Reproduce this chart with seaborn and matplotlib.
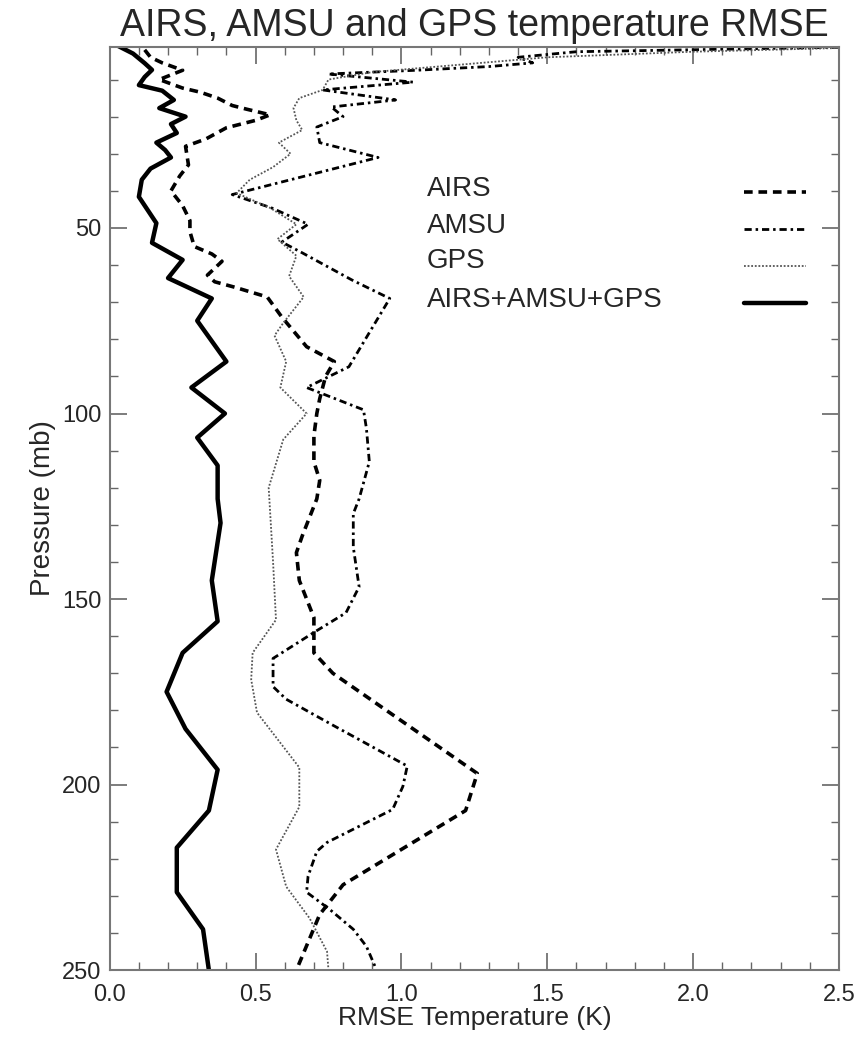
import numpy as np
import pandas as pd
import seaborn as sns
import matplotlib.pyplot as plt
from matplotlib.lines import Line2D

# RMSE profiles (pressure in mb, RMSE in K)
airs_p = [2, 4, 5.5, 7.5, 10, 12.3, 13.4, 15, 17, 18, 19.5, 21, 23, 26, 28, 33, 36, 40,
          44, 48, 51, 55, 57, 59, 62.7, 64.5, 66, 68.6, 74, 82, 86, 90, 96, 100, 106,
          113, 118, 123, 133, 137.5, 145, 155, 164.5, 170, 197, 207, 227, 235, 250]
airs_t = [0.12, 0.14, 0.18, 0.25, 0.17, 0.25, 0.31, 0.37, 0.42, 0.47, 0.55, 0.50, 0.40,
          0.33, 0.26, 0.27, 0.24, 0.21, 0.25, 0.275, 0.275, 0.29, 0.35, 0.385, 0.335,
          0.36, 0.43, 0.54, 0.59, 0.675, 0.77, 0.74, 0.72, 0.71, 0.70, 0.70, 0.72, 0.71,
          0.66, 0.64, 0.65, 0.70, 0.70, 0.765, 1.26, 1.22, 0.80, 0.72, 0.64]

amsu_p = [1.3, 2.5, 4, 5.5, 6.5, 7.5, 8.5, 10.7, 12.8, 15.5, 17.4, 20, 22.8, 27, 31, 41,
          44.6, 49, 53.8, 56.7, 64, 69, 87.4, 93, 99, 104, 113, 123, 127, 136, 146.7,
          153.7, 159, 166, 173.6, 177, 184, 195, 200.5, 206.7, 215.6, 218, 224.7, 229,
          233.7, 239, 243.6, 250]
amsu_t = [2.5, 1.6, 1.4, 1.45, 1.3, 1.05, 0.75, 1.04, 0.73, 0.98, 0.76, 0.80, 0.71, 0.72,
          0.92, 0.42, 0.555, 0.68, 0.59, 0.66, 0.83, 0.96, 0.82, 0.675, 0.87, 0.88, 0.89,
          0.855, 0.835, 0.835, 0.855, 0.81, 0.70, 0.56, 0.56, 0.605, 0.765, 1.02, 1.005,
          0.97, 0.745, 0.71, 0.68, 0.675, 0.755, 0.835, 0.88, 0.915]

gps_p = [1.5, 2.5, 4, 6, 8, 10, 12.8, 15, 17.7, 21, 23.6, 27, 30, 33.6, 37, 40.6, 44.6,
         49, 53, 57.5, 63, 68.6, 75.6, 79, 86, 93, 100, 107, 120, 140, 155.6, 164.5,
         171.7, 180.6, 195.4, 206, 217.5, 227.5, 236, 245, 250]
gps_t = [2.5, 2.0, 1.5, 1.2, 0.9, 0.75, 0.73, 0.65, 0.63, 0.64, 0.66, 0.58, 0.62, 0.56,
         0.48, 0.435, 0.55, 0.64, 0.575, 0.64, 0.615, 0.665, 0.595, 0.565, 0.605, 0.585,
         0.675, 0.595, 0.545, 0.56, 0.57, 0.49, 0.485, 0.505, 0.65, 0.65, 0.57, 0.605,
         0.685, 0.745, 0.75]

comb_p = [1, 3, 5.6, 7.4, 9.3, 11.5, 13, 15.5, 17.7, 20, 22, 24.4, 27, 29, 31, 34, 37,
          41.6, 48.7, 54, 58.6, 63.5, 69, 75, 86, 93, 100, 106.5, 114, 123, 129.5, 145,
          156, 164.5, 175, 185, 196, 207, 217, 229, 239, 250]
comb_t = [0.03, 0.08, 0.12, 0.145, 0.12, 0.10, 0.18, 0.22, 0.17, 0.26, 0.21, 0.23, 0.16,
          0.19, 0.21, 0.14, 0.11, 0.10, 0.16, 0.145, 0.25, 0.20, 0.35, 0.30, 0.40, 0.28,
          0.395, 0.30, 0.37, 0.37, 0.38, 0.35, 0.37, 0.25, 0.195, 0.26, 0.37, 0.34, 0.23,
          0.23, 0.32, 0.34]

names = ["AIRS", "AMSU", "GPS", "AIRS+AMSU+GPS"]

sns.set_style("ticks")
plt.rcParams['font.family'] = ['Liberation Sans', 'DejaVu Sans']

fig = plt.figure(figsize=(8.57, 10.42), dpi=100)
ax = fig.add_axes([0.128, 0.069, 0.851, 0.886])

styles = {
    "AIRS": dict(color="black", lw=2.6, linestyle=(0, (2.4, 1.6))),
    "AMSU": dict(color="black", lw=2.0, linestyle=(0, (2.6, 1.4, 0.9, 1.4))),
    "GPS": dict(color="#555555", lw=1.3, linestyle=(0, (1.0, 1.0))),
    "AIRS+AMSU+GPS": dict(color="black", lw=3.2, linestyle="-"),
}
series = {
    "AIRS": (airs_t, airs_p),
    "AMSU": (amsu_t, amsu_p),
    "GPS": (gps_t, gps_p),
    "AIRS+AMSU+GPS": (comb_t, comb_p),
}

for name in names:
    t, p = series[name]
    df = pd.DataFrame({"rmse": t, "pres": p})
    sns.lineplot(data=df, x="rmse", y="pres", sort=False, estimator=None, ax=ax,
                 **styles[name])

ax.set_xlim(0, 2.5)
ax.set_ylim(250, 1.2)
ax.set_xticks(np.arange(0, 2.51, 0.5))
ax.set_xticks(np.arange(0, 2.51, 0.1), minor=True)
ax.set_yticks([50, 100, 150, 200, 250])
ax.set_yticks(np.arange(10, 251, 10), minor=True)
ax.xaxis.set_major_formatter(plt.FormatStrFormatter('%.1f'))
ax.tick_params(which="both", direction="in", top=True, right=True, color="#666666",
               labelsize=17)
ax.tick_params(axis="x", which="major", pad=10)
ax.tick_params(axis="y", which="major", pad=6)
ax.tick_params(which="major", length=12, width=1.2)
ax.tick_params(which="minor", length=6, width=1.0)
for s in ax.spines.values():
    s.set_color("#777777")
    s.set_linewidth(1.5)

ax.set_title("AIRS, AMSU and GPS temperature RMSE", fontsize=27, pad=8)
ax.set_xlabel("RMSE Temperature (K)", fontsize=19, labelpad=0)
ax.set_ylabel("Pressure (mb)", fontsize=20, labelpad=4)

# legend: names on the left, line samples on the right
handles = [Line2D([], [], **styles[n]) for n in names]
leg = ax.legend(handles, [""] * 4, loc="upper left", bbox_to_anchor=(0.855, 0.862),
                frameon=False, fontsize=15, handlelength=3.0, labelspacing=0.86,
                handletextpad=0, borderpad=0)
rows = [39.5, 49.5, 59, 69.5]
for n, r in zip(names, rows):
    ax.text(0.435, r, n, transform=ax.get_yaxis_transform(), fontsize=20,
            va="center", ha="left")

fig.savefig("out.png", dpi=100)
